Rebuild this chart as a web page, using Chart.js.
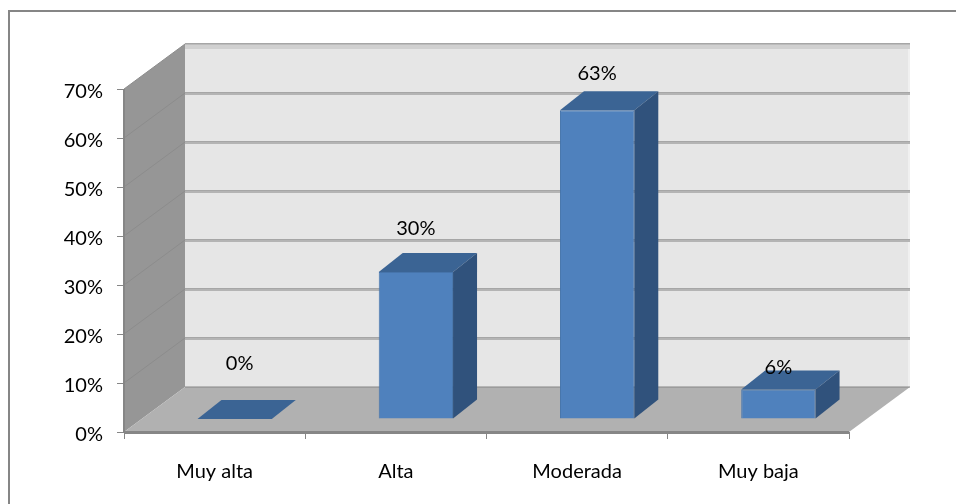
<!DOCTYPE html>
<html>
<head>
<meta charset="utf-8">
<style>
  html, body { margin: 0; padding: 0; background: #fff; }
  canvas { display: block; }
</style>
<script src="https://cdn.jsdelivr.net/npm/chart.js@4/dist/chart.umd.min.js"></script>
</head>
<body>
<div style="width:956px;height:504px"><canvas id="c" width="956" height="504"></canvas></div>
<script>
const categories = ['Muy alta', 'Alta', 'Moderada', 'Muy baja'];
const shares = [0, 30, 63, 6];
const labelLift = [36, 24, 18, 3];
const labelShift = [5, 0, 0, 0];
const axisTicks = [0, 10, 20, 30, 40, 50, 60, 70];

const FONT = 'Lato, Carlito, sans-serif';
const TEXT_SIZE = 20;
const wall = { dx: 61, dy: -45 };      // depth of the chart box
const slab = { dx: 24, dy: -19 };      // depth of each column
const lane = { dx: 20, dy: -13 };      // columns stand partway into the box

const colors = {
  front: '#4F81BD', frontEdge: '#4674AB', top: '#3B6494', side: '#30527C',
  back: '#E6E6E6', backEdge: '#F0F0F0', leftWall: '#969696', floor: '#B1B1B1',
  grid: '#B4B4B4', gridTop: '#A6A6A6', leftGrid: '#8C8C8C', axis: '#868686'
};

function poly(ctx, pts, fill) {
  ctx.beginPath();
  pts.forEach((p, i) => i ? ctx.lineTo(p[0], p[1]) : ctx.moveTo(p[0], p[1]));
  ctx.closePath();
  ctx.fillStyle = fill;
  ctx.fill();
}

// Walls and floor sit behind the columns and follow the chart's scales.
const boxPlugin = {
  id: 'box',
  beforeDatasetsDraw(chart) {
    const { ctx, scales: { x, y } } = chart;
    const l = x.left, r = x.right, b = y.getPixelForValue(0), t = y.getPixelForValue(70);
    ctx.save();
    poly(ctx, [[l + wall.dx, t + wall.dy], [r + wall.dx, t + wall.dy], [r + wall.dx, b + wall.dy], [l + wall.dx, b + wall.dy]], colors.back);
    ctx.fillStyle = colors.backEdge;
    ctx.fillRect(r + wall.dx - 2, t + wall.dy, 2, b - t);
    poly(ctx, [[l, t], [l + wall.dx, t + wall.dy], [l + wall.dx, b + wall.dy], [l, b]], colors.leftWall);
    poly(ctx, [[l, b], [r, b], [r + wall.dx, b + wall.dy], [l + wall.dx, b + wall.dy]], colors.floor);

    axisTicks.forEach(v => {
      const py = y.getPixelForValue(v);
      if (v > 0) {
        ctx.strokeStyle = colors.leftGrid;
        ctx.lineWidth = 1;
        ctx.beginPath();
        ctx.moveTo(l, py);
        ctx.lineTo(l + wall.dx, py + wall.dy);
        ctx.stroke();
      }
      if (v === 70) {
        ctx.fillStyle = '#D0D0D0';
        ctx.fillRect(l + wall.dx, py + wall.dy, r - l, 5);
        ctx.fillStyle = colors.gridTop;
        ctx.fillRect(l + wall.dx, py + wall.dy - 1, r - l, 1.5);
      } else if (v > 0) {
        ctx.fillStyle = colors.grid;
        ctx.fillRect(l + wall.dx, py + wall.dy - 1, r - l, 3);
        ctx.fillStyle = colors.gridTop;
        ctx.fillRect(l + wall.dx, py + wall.dy - 1, r - l, 1);
      }
    });
    // Floor edge line to the back wall and front axis line
    ctx.fillStyle = colors.axis;
    ctx.fillRect(l + wall.dx, b + wall.dy - 0.5, r - l, 1);
    ctx.fillRect(l - 1, t, 2, b - t);
    ctx.fillRect(l, b - 1, r - l, 3);

    // Value-axis labels sit slightly under their tick marks
    ctx.fillStyle = '#000';
    ctx.font = TEXT_SIZE + 'px ' + FONT;
    ctx.textAlign = 'right';
    ctx.textBaseline = 'middle';
    y.ticks.forEach(tick => {
      ctx.fillText(tick.label, l - 21, y.getPixelForValue(tick.value) + 3);
    });
    ctx.restore();
  },
  // Top and side faces of each column, then the value labels
  afterDatasetsDraw(chart) {
    const { ctx } = chart;
    const meta = chart.getDatasetMeta(0);
    ctx.save();
    meta.data.forEach((bar, i) => {
      const half = bar.width / 2;
      const x0 = bar.x - half + lane.dx, x1 = bar.x + half + lane.dx;
      const top = bar.y + lane.dy, base = bar.base + lane.dy;
      poly(ctx, [[x0, top], [x1, top], [x1 + slab.dx, top + slab.dy], [x0 + slab.dx, top + slab.dy]], colors.top);
      if (base > top) {
        poly(ctx, [[x1, top], [x1 + slab.dx, top + slab.dy], [x1 + slab.dx, base + slab.dy], [x1, base]], colors.side);
      }
    });
    ctx.fillStyle = '#000';
    ctx.font = TEXT_SIZE + 'px ' + FONT;
    ctx.textAlign = 'center';
    ctx.textBaseline = 'middle';
    meta.data.forEach((bar, i) => {
      const top = bar.y + lane.dy + slab.dy;
      ctx.fillText(shares[i] + '%', bar.x + lane.dx + labelShift[i], top - labelLift[i]);
    });
    ctx.restore();
  },
  beforeDatasetDraw(chart) {
    chart.ctx.save();
    chart.ctx.translate(lane.dx, lane.dy);
  },
  afterDatasetDraw(chart) {
    chart.ctx.restore();
  },
  // Chart outline: only the top and left rules show
  beforeDraw(chart) {
    const { ctx } = chart;
    ctx.fillStyle = colors.axis;
    ctx.fillRect(8, 10, 2, 494);
    ctx.fillRect(8, 10, 948, 2);
  }
};

new Chart(document.getElementById('c'), {
  type: 'bar',
  data: {
    labels: categories,
    datasets: [{
      data: shares,
      backgroundColor: colors.front,
      borderColor: colors.frontEdge,
      borderWidth: 1,
      barPercentage: 0.41,
      categoryPercentage: 1
    }]
  },
  options: {
    responsive: false,
    animation: false,
    layout: { padding: { left: 0, right: 107, top: 89, bottom: 0 } },
    plugins: { legend: { display: false }, tooltip: { enabled: false } },
    scales: {
      x: {
        border: { display: false },
        grid: { drawOnChartArea: false, drawTicks: true, tickLength: 7, color: colors.axis },
        ticks: { color: '#000', font: { family: FONT, size: TEXT_SIZE }, padding: 21, maxRotation: 0 },
        afterFit(s) { s.height = 72; }
      },
      y: {
        min: 0, max: 70,
        border: { display: false },
        grid: { drawOnChartArea: false, drawTicks: true, tickLength: 7, color: colors.axis },
        ticks: { display: false, stepSize: 10, callback: v => v + '%' },
        afterFit(s) { s.width = 124; }
      }
    }
  },
  plugins: [boxPlugin]
});
</script>
</body>
</html>
